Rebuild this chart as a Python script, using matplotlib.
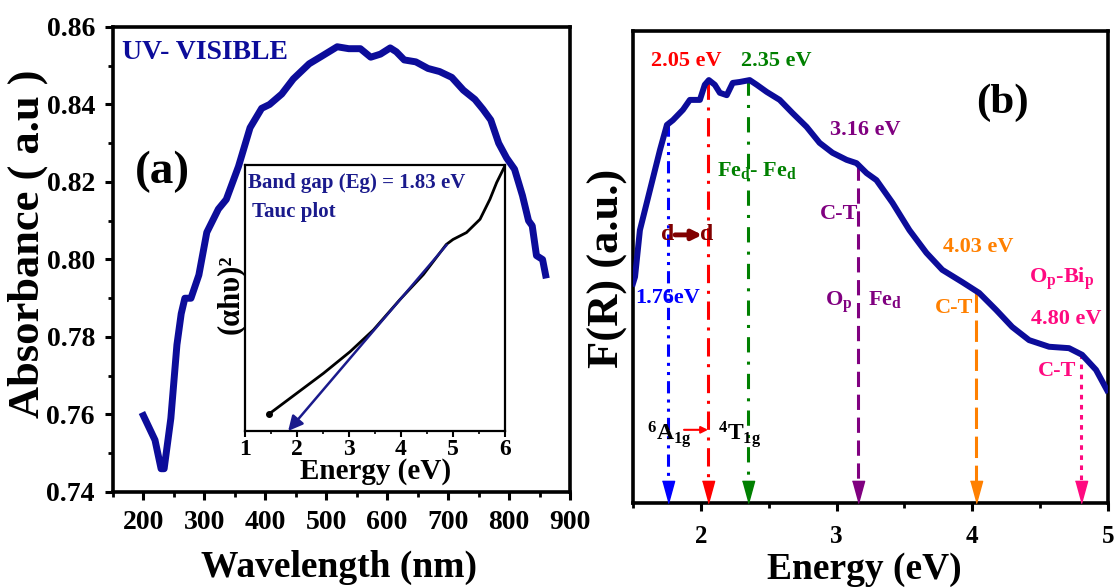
import matplotlib
matplotlib.use('Agg')
import matplotlib.pyplot as plt
from matplotlib.ticker import MultipleLocator, NullLocator, FormatStrFormatter
import numpy as np

plt.rcParams['font.family'] = ['Liberation Serif', 'DejaVu Serif']
plt.rcParams['font.weight'] = 'bold'
plt.rcParams['axes.labelweight'] = 'bold'
plt.rcParams['mathtext.fontset'] = 'custom'
plt.rcParams['mathtext.rm'] = 'Liberation Serif:bold'
plt.rcParams['mathtext.it'] = 'Liberation Serif:bold'
plt.rcParams['mathtext.bf'] = 'Liberation Serif:bold'
plt.rcParams['mathtext.default'] = 'rm'

# (a) UV-visible absorbance
wavelength = [200, 219, 229, 234, 245, 255, 262, 268, 278, 291, 304, 323, 336, 356,
              375, 394, 407, 427, 446, 472, 492, 518, 537, 556, 573, 589, 605, 615,
              628, 647, 667, 686, 706, 725, 744, 757, 770, 783, 796, 809, 822, 832,
              838, 845, 855, 860]
absorbance = [0.7597, 0.7534, 0.746, 0.746, 0.759, 0.778, 0.786, 0.790, 0.790, 0.796,
              0.807, 0.813, 0.8155, 0.824, 0.834, 0.839, 0.840, 0.8427, 0.8466, 0.8505,
              0.8524, 0.8549, 0.8544, 0.8544, 0.8522, 0.853, 0.8546, 0.8536, 0.8515,
              0.851, 0.8493, 0.8485, 0.847, 0.8437, 0.8413, 0.8388, 0.836, 0.830,
              0.8262, 0.8233, 0.8165, 0.810, 0.8087, 0.801, 0.800, 0.796]

# inset: Tauc plot
tauc_e = [1.47, 1.99, 2.51, 3.02, 3.47, 3.98, 4.43, 4.87, 5.0, 5.26, 5.52, 5.71, 5.84, 6.0]
tauc_y = [0.065, 0.141, 0.217, 0.298, 0.380, 0.494, 0.588, 0.701, 0.720, 0.746, 0.796,
          0.871, 0.934, 0.997]
fit_start = (4.88, 0.70)
band_gap = 1.83

# (b) F(R) vs energy
energy = [1.50, 1.515, 1.551, 1.625, 1.699, 1.75, 1.794, 1.868, 1.919, 1.993, 2.029,
          2.059, 2.103, 2.140, 2.191, 2.235, 2.287, 2.36, 2.412, 2.485, 2.581, 2.676,
          2.779, 2.875, 2.97, 3.074, 3.147, 3.221, 3.294, 3.412, 3.537, 3.662, 3.779,
          3.926, 4.051, 4.176, 4.294, 4.419, 4.566, 4.713, 4.809, 4.912, 4.993]
fr = [0.465, 0.479, 0.578, 0.663, 0.748, 0.801, 0.811, 0.833, 0.854, 0.854, 0.886,
      0.896, 0.886, 0.869, 0.864, 0.890, 0.892, 0.896, 0.886, 0.871, 0.854, 0.826,
      0.797, 0.763, 0.742, 0.727, 0.720, 0.699, 0.684, 0.636, 0.578, 0.530, 0.494,
      0.468, 0.445, 0.409, 0.373, 0.345, 0.331, 0.328, 0.314, 0.282, 0.239]

peak_e = [1.76, 2.05, 2.35, 3.16, 4.03, 4.80]
peak_col = ['#0000ff', '#ff0000', '#008000', '#800080', '#ff8000', '#ff0a80']
peak_ls = [(0, (4, 2, 1, 2, 1, 2)), (0, (6, 2.5, 1, 2.5)), (0, (5, 3, 1, 3)),
           (0, (5, 2.5)), (0, (7, 2.5)), (0, (1.5, 1.8))]

navy = '#0c0c9a'


def place_labels(ax, xc, yc):
    # put axis labels by their centres (axes coords)
    ax.xaxis.set_label_coords(*xc)
    ax.yaxis.set_label_coords(*yc)
    ax.xaxis.label.set_verticalalignment('center')
    ax.yaxis.label.set_verticalalignment('center')


fig = plt.figure(figsize=(11.15, 5.88), dpi=100)

# ---------- panel (a)
ax1 = fig.add_axes([0.1013, 0.1633, 0.4099, 0.7908])
ax1.plot(wavelength, absorbance, color=navy, lw=5)
ax1.set_xlim(150, 900)
ax1.set_ylim(0.74, 0.86)
ax1.xaxis.set_major_locator(MultipleLocator(100))
ax1.xaxis.set_minor_locator(MultipleLocator(50))
ax1.yaxis.set_major_locator(MultipleLocator(0.02))
ax1.yaxis.set_minor_locator(MultipleLocator(0.01))
ax1.yaxis.set_major_formatter(FormatStrFormatter('%.2f'))
ax1.tick_params(which='major', direction='out', length=6, width=2.2, labelsize=20, pad=7)
ax1.tick_params(which='minor', direction='out', length=3.5, width=2)
for s in ax1.spines.values():
    s.set_linewidth(2.6)
ax1.set_xlabel('Wavelength (nm)', fontsize=27)
ax1.set_ylabel('Absorbance ( a.u )', fontsize=32)
place_labels(ax1, (0.495, -0.163), (-0.186, 0.533))
ax1.text(0.02, 0.946, 'UV- VISIBLE', transform=ax1.transAxes, color=navy,
         fontsize=20, ha='left', va='center')
ax1.text(0.109, 0.688, '(a)', transform=ax1.transAxes, fontsize=34,
         ha='center', va='center')

# inset
ins = fig.add_axes([0.2197, 0.2670, 0.2332, 0.4524])
ins.plot(tauc_e, tauc_y, color='black', lw=2)
ins.plot(tauc_e[0], tauc_y[0], 'o', color='black', ms=4)
ins.annotate('', xy=(band_gap, 0.0), xytext=fit_start,
             arrowprops=dict(arrowstyle='-|>', color='#1a1a8c', lw=1.8,
                             mutation_scale=22, shrinkA=0, shrinkB=0))
ins.set_xlim(1, 6)
ins.set_ylim(0, 1)
ins.xaxis.set_major_locator(MultipleLocator(1))
ins.xaxis.set_minor_locator(MultipleLocator(0.5))
ins.yaxis.set_major_locator(NullLocator())
ins.tick_params(which='major', direction='out', length=4, width=1.5, labelsize=17, pad=2)
ins.tick_params(which='minor', direction='out', length=2.5, width=1.2)
for s in ins.spines.values():
    s.set_linewidth(1.6)
ins.set_xlabel('Energy (eV)', fontsize=21)
ins.set_ylabel('(αhυ)²', fontsize=22)
place_labels(ins, (0.504, -0.154), (-0.058, 0.515))
ins.text(0.012, 0.932, 'Band gap (Eg) = 1.83 eV', transform=ins.transAxes,
         color='#1a1a8c', fontsize=15, ha='left', va='center')
ins.text(0.027, 0.823, 'Tauc plot', transform=ins.transAxes,
         color='#1a1a8c', fontsize=15, ha='left', va='center')

# ---------- panel (b)
ax2 = fig.add_axes([0.5677, 0.1446, 0.426, 0.8027])
ax2.plot(energy, fr, color=navy, lw=4.3, zorder=3)
ax2.set_xlim(1.5, 5)
ax2.set_ylim(0, 1)
tri = [(-0.55, 1), (0.55, 1), (0, -1)]
for e, c, ls in zip(peak_e, peak_col, peak_ls):
    top = np.interp(e, energy, fr)
    ax2.plot([e, e], [top, 0.04], color=c, lw=2.2, linestyle=ls, zorder=2)
    ax2.plot(e, 0.023, marker=tri, color=c, ms=16, clip_on=False, zorder=4)

ax2.xaxis.set_major_locator(MultipleLocator(1))
ax2.xaxis.set_minor_locator(MultipleLocator(0.5))
ax2.yaxis.set_major_locator(NullLocator())
ax2.tick_params(which='major', direction='out', length=6, width=2.2, labelsize=18, pad=10)
ax2.tick_params(which='minor', direction='out', length=3.5, width=2)
for s in ax2.spines.values():
    s.set_linewidth(2.6)
ax2.set_xlabel('Energy (eV)', fontsize=27)
ax2.set_ylabel('F(R) (a.u.)', fontsize=32)
place_labels(ax2, (0.488, -0.14), (-0.052, 0.498))

fs = 16
ax2.text(1.89, 0.936, '2.05 eV', color='#ff0000', fontsize=fs, ha='center', va='center')
ax2.text(2.554, 0.936, '2.35 eV', color='#008000', fontsize=fs, ha='center', va='center')
ax2.text(3.21, 0.79, '3.16 eV', color='#800080', fontsize=fs, ha='center', va='center')
ax2.text(4.22, 0.847, '(b)', fontsize=31, ha='center', va='center')
ax2.text(2.414, 0.705, r'Fe$_{d}$- Fe$_{d}$', color='#008000', fontsize=fs,
         ha='center', va='center')
ax2.text(3.018, 0.612, 'C-T', color='#800080', fontsize=fs, ha='center', va='center')
ax2.text(1.758, 0.568, 'd', color='#800000', fontsize=fs + 1, ha='center', va='center')
ax2.text(2.045, 0.568, 'd', color='#800000', fontsize=fs + 1, ha='center', va='center')
ax2.annotate('', xy=(2.01, 0.568), xytext=(1.81, 0.568),
             arrowprops=dict(arrowstyle='-|>', color='#800000', lw=3.5,
                             mutation_scale=14, shrinkA=0, shrinkB=0))
ax2.text(1.758, 0.434, '1.76eV', color='#0000ff', fontsize=fs, ha='center', va='center')
ax2.text(3.202, 0.425, r'O$_{p}$   Fe$_{d}$', color='#800080', fontsize=fs,
         ha='center', va='center')
ax2.text(4.042, 0.542, '4.03 eV', color='#ff8000', fontsize=fs, ha='center', va='center')
ax2.text(3.865, 0.413, 'C-T', color='#ff8000', fontsize=fs, ha='center', va='center')
ax2.text(4.661, 0.475, r'O$_{p}$-Bi$_{p}$', color='#ff0a80', fontsize=fs,
         ha='center', va='center')
ax2.text(4.691, 0.39, '4.80 eV', color='#ff0a80', fontsize=fs, ha='center', va='center')
ax2.text(4.625, 0.28, 'C-T', color='#ff0a80', fontsize=fs, ha='center', va='center')
ax2.text(1.603, 0.133, r'$^{6}$A$_{1g}$', fontsize=fs + 1, ha='left', va='baseline')
ax2.text(2.126, 0.133, r'$^{4}$T$_{1g}$', fontsize=fs + 1, ha='left', va='baseline')
ax2.annotate('', xy=(2.053, 0.155), xytext=(1.876, 0.155),
             arrowprops=dict(arrowstyle='-|>', color='#ff0000', lw=1.5,
                             mutation_scale=10, shrinkA=0, shrinkB=0))

fig.savefig('out.png', dpi=100)
